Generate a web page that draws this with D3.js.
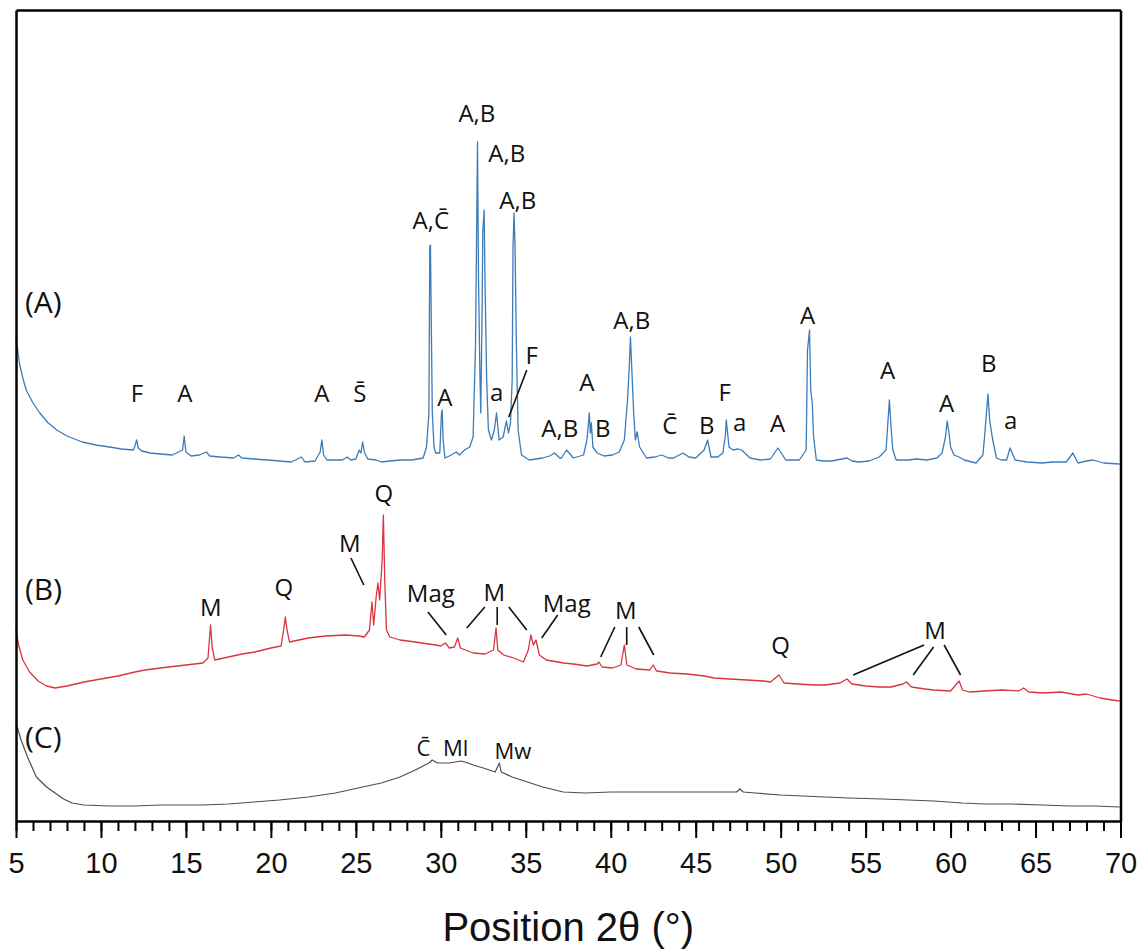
<!DOCTYPE html>
<html>
<head>
<meta charset="utf-8">
<script src="https://cdn.jsdelivr.net/npm/d3@7"></script>
<style>
  body { margin: 0; background: #fff; }
</style>
</head>
<body>
<svg id="chart"></svg>
<script>
// XRD patterns, 2theta (deg) vs intensity (a.u., traces stacked)
const traceA = [[5.0,484],[5.1,471],[5.2,458],[5.4,443],[5.6,431],[6.0,418],[6.4,408],[6.9,398],[7.4,391],[8.0,385],[8.9,379],[9.7,376],[10.5,374],[11.2,372],[11.9,371],[12.0,375],[12.1,381],[12.2,373],[12.4,370],[12.9,368],[13.5,367],[14.2,366],[14.8,371],[14.9,385],[15.0,369],[15.3,365],[15.8,366],[16.2,369],[16.4,365],[17.0,364],[17.8,363],[18.1,366],[18.3,363],[19.0,362],[19.8,361],[20.5,360],[21.2,359],[21.8,364],[22.0,359],[22.6,360],[22.9,369],[23.0,381],[23.1,366],[23.3,361],[23.7,361],[24.2,361],[24.5,364],[24.7,361],[25.0,362],[25.2,371],[25.3,368],[25.4,379],[25.5,369],[25.7,362],[26.2,361],[26.5,359],[27.0,360],[27.6,361],[28.3,361],[28.96,363],[29.16,374],[29.3,408],[29.35,574],[29.39,576],[29.45,484],[29.5,408],[29.6,374],[29.7,368],[29.94,368],[30.04,408],[30.08,411],[30.14,381],[30.24,363],[30.5,365],[30.92,369],[31.1,366],[31.4,371],[31.7,374],[31.9,384],[32.04,474],[32.1,574],[32.16,679],[32.22,541],[32.3,448],[32.35,408],[32.43,508],[32.47,589],[32.55,611],[32.6,541],[32.7,441],[32.8,391],[32.98,381],[33.15,391],[33.28,408],[33.43,381],[33.67,384],[33.86,400],[33.98,388],[34.1,398],[34.2,441],[34.25,574],[34.31,608],[34.37,574],[34.45,474],[34.55,391],[34.75,366],[35.2,361],[35.6,362],[36.0,363],[36.4,365],[36.7,368],[37.0,363],[37.1,363],[37.4,371],[37.8,363],[38.4,366],[38.6,381],[38.74,408],[38.8,388],[38.86,398],[38.95,374],[39.2,368],[39.6,365],[40.1,366],[40.5,369],[40.8,381],[41.0,424],[41.1,458],[41.16,484],[41.25,448],[41.35,408],[41.45,381],[41.55,389],[41.7,374],[42.1,363],[42.6,364],[43.0,366],[43.4,363],[43.7,363],[44.25,368],[44.6,364],[45.0,363],[45.5,371],[45.7,381],[45.9,364],[46.3,364],[46.6,368],[46.75,386],[46.8,401],[46.96,374],[47.2,371],[47.5,372],[47.7,371],[48.2,363],[48.8,361],[49.4,362],[49.84,373],[50.0,369],[50.3,361],[51.1,361],[51.5,371],[51.58,471],[51.7,491],[51.77,431],[51.86,418],[51.94,384],[52.1,361],[52.5,360],[53.0,360],[53.9,363],[54.2,360],[54.6,359],[55.2,360],[55.8,364],[56.2,371],[56.4,421],[56.5,393],[56.6,371],[56.8,361],[57.5,361],[58.0,362],[58.6,361],[59.2,363],[59.5,368],[59.7,384],[59.8,400],[59.9,389],[60.0,374],[60.2,366],[60.5,364],[60.8,361],[61.5,358],[61.9,366],[62.0,384],[62.2,427],[62.3,401],[62.45,384],[62.7,363],[63.0,361],[63.3,361],[63.5,373],[63.6,369],[63.8,361],[64.5,359],[65.4,358],[66.0,359],[66.8,359],[67.2,368],[67.4,361],[67.5,358],[68.0,360],[68.4,361],[69.0,358],[69.95,357]];

const traceB = [[5.0,191],[5.15,176],[5.4,161],[5.8,149],[6.3,140],[6.8,135],[7.3,133],[8.0,135],[9.0,139],[10.0,142],[11.0,145],[12.0,149],[12.6,151],[13.5,153],[14.5,155],[15.5,157],[16.0,158],[16.3,163],[16.45,196],[16.55,173],[16.7,161],[17.5,164],[18.3,167],[19.05,169],[20.0,173],[20.6,175],[20.75,191],[20.85,204],[20.95,191],[21.1,179],[22.2,183],[23.2,185],[24.4,186],[25.2,185],[25.5,184],[25.8,191],[25.95,219],[26.05,196],[26.2,225],[26.3,238],[26.4,221],[26.55,261],[26.62,306],[26.7,241],[26.8,191],[27.0,184],[27.6,181],[28.5,179],[29.7,176],[30.0,175],[30.27,178],[30.5,173],[30.8,174],[31.0,183],[31.15,173],[31.9,168],[32.6,167],[33.1,171],[33.25,193],[33.35,171],[33.7,166],[34.3,163],[34.86,159],[35.15,171],[35.3,186],[35.45,176],[35.6,181],[35.8,166],[36.2,161],[36.9,159],[37.2,158],[37.8,157],[38.6,155],[39.2,157],[39.3,159],[39.5,154],[40.1,153],[40.6,156],[40.8,176],[40.95,156],[41.5,152],[42.3,151],[42.5,156],[42.7,150],[43.5,148],[44.5,147],[45.5,145],[46.1,143],[47.0,142],[48.0,141],[49.0,140],[49.4,139],[49.9,146],[50.2,138],[51.0,137],[52.0,136],[52.6,136],[53.5,138],[53.9,142],[54.2,137],[55.0,135],[55.8,134],[56.5,134],[57.2,137],[57.4,139],[57.7,134],[58.5,132],[59.0,131],[60.0,130],[60.5,140],[60.7,131],[61.1,129],[62.0,130],[63.0,131],[64.0,130],[64.3,133],[64.6,129],[65.5,128],[66.5,129],[67.5,126],[68.0,127],[68.8,123],[69.5,121],[69.95,120]];

const traceC = [[5.0,98],[5.3,81],[5.7,63],[6.2,44],[6.8,34],[7.3,28],[7.8,22],[8.3,18],[9.0,16],[10.5,15],[12.0,15],[13.5,16],[14.8,16],[16.0,16],[17.5,17],[19.0,19],[20.5,21],[22.2,24],[23.8,28],[25.4,34],[26.5,38],[27.6,44],[28.5,51],[29.3,58],[29.5,61],[29.8,58],[30.5,58],[31.2,60],[31.6,58],[31.9,56],[32.5,53],[33.2,49],[33.45,58],[33.55,49],[34.2,44],[35.1,39],[36.0,34],[37.2,29],[38.5,28],[40.0,29],[42.0,29],[44.0,29],[46.0,29],[47.4,29],[47.6,32],[47.8,29],[48.5,28],[50.0,26],[52.6,24],[54.0,23],[56.0,22],[57.5,21],[59.0,20],[60.7,18],[62.0,17],[63.5,17],[65.4,16],[67.0,15],[68.5,15],[69.95,14]];

// phase labels: [text, 2theta, intensity at baseline]
const labelsA = [["F",12.12,419.5],["A",14.94,419.5],["A",23.0,419.5],["S\u0304",25.24,419.5],["A,C\u0304",29.41,592.5],["A",30.24,415.5],["A,B",32.12,699.5],["A,B",33.88,659.5],["A,B",34.53,612.5],["a",33.29,420],["F",35.35,457.5],["A",38.59,430.5],["A,B",37.0,384.5],["B",39.53,384.5],["A,B",41.24,492.5],["C\u0304",43.47,387.5],["B",45.65,387.5],["F",46.71,420.5],["a",47.59,390],["A",49.82,389.5],["A",51.59,497.5],["A",56.29,442.5],["A",59.76,409.5],["B",62.24,449.5],["a",63.53,392]];
const labelsB = [["M",16.47,205.5],["Q",20.76,225.5],["M",24.65,269.5],["Q",26.65,319.5],["Mag",29.41,219.5],["M",33.15,220.5],["Mag",37.41,209.5],["M",40.88,202.5],["Q",50.0,167.5],["M",59.09,182.5]];
const labelsC = [["C\u0304",28.98,65.5],["Ml",30.88,65.5],["Mw",34.24,62.5]];
const sampleNames = [["(A)",5.53,508],["(B)",5.53,221],["(C)",5.53,73]];

// leader lines: [2theta1, I1, 2theta2, I2]
const leaders = [[35.06,451,34.0,404],[24.71,263,25.47,236],[29.24,209,30.32,186],[32.59,214,31.53,193],[33.32,214,33.32,196],[34.0,214,35.06,191],[36.88,206,35.94,183],[40.24,194,39.41,164],[40.94,194,40.94,176],[41.65,194,42.53,166],[58.44,176,54.27,146],[59.0,174,57.8,146],[59.62,176,60.59,146]];

const xMajor = d3.range(5, 71, 5);
const xMinor = d3.range(5, 71, 1);

const W = 1143, H = 951;
const margin = { top: 10, right: 22.5, bottom: 130, left: 16 };

const svg = d3.select("#chart").attr("width", W).attr("height", H);

const x = d3.scaleLinear().domain([5, 70]).range([margin.left, W - margin.right]);
const y = d3.scaleLinear().domain([0, 811]).range([H - margin.bottom, margin.top]);

const line = d3.line().x(d => x(d[0])).y(d => y(d[1]));

svg.append("path").datum(traceC)
  .attr("fill", "none").attr("stroke", "#4d4d4d").attr("stroke-width", 1.2)
  .attr("stroke-linejoin", "round").attr("d", line);
svg.append("path").datum(traceB)
  .attr("fill", "none").attr("stroke", "#d9343f").attr("stroke-width", 1.3)
  .attr("stroke-linejoin", "round").attr("d", line);
svg.append("path").datum(traceA)
  .attr("fill", "none").attr("stroke", "#3d7cb8").attr("stroke-width", 1.3)
  .attr("stroke-linejoin", "round").attr("d", line);

// frame
const y0 = y(0), yTop = y(811);
svg.append("g").attr("transform", "translate(0," + yTop + ")")
  .call(d3.axisTop(x).tickValues([]).tickSizeOuter(0))
  .select(".domain").attr("stroke-width", 2.5);
svg.append("g").attr("transform", "translate(" + x(5) + ",0)")
  .call(d3.axisLeft(y).tickValues([]).tickSizeOuter(0))
  .select(".domain").attr("stroke-width", 2.5);
svg.append("g").attr("transform", "translate(" + x(70) + ",0)")
  .call(d3.axisRight(y).tickValues([]).tickSizeOuter(0))
  .select(".domain").attr("stroke-width", 2.5);

// bottom axis: minor then major ticks
const minorAxis = svg.append("g").attr("transform", "translate(0," + y0 + ")")
  .call(d3.axisBottom(x).tickValues(xMinor).tickSize(10).tickSizeOuter(0).tickFormat(""));
minorAxis.selectAll(".tick line").attr("stroke-width", 2);
minorAxis.select(".domain").attr("stroke-width", 2.5);

const majorAxis = svg.append("g").attr("transform", "translate(0," + y0 + ")")
  .call(d3.axisBottom(x).tickValues(xMajor).tickSize(17).tickSizeOuter(0).tickPadding(14));
majorAxis.select(".domain").remove();
majorAxis.selectAll(".tick line").attr("stroke-width", 2);
majorAxis.selectAll(".tick text")
  .attr("font-family", "Liberation Sans, Arial, sans-serif")
  .attr("font-size", 29).attr("fill", "#111");

svg.append("text")
  .attr("x", (x(5) + x(70)) / 2).attr("y", 941)
  .attr("text-anchor", "middle")
  .attr("font-family", "Liberation Sans, Arial, sans-serif")
  .attr("font-size", 40).attr("fill", "#111")
  .text("Position 2\u03b8 (\u00b0)");

const labelFont = "'Open Sans', 'Noto Sans', sans-serif";

function drawLabels(arr, size) {
  svg.append("g").selectAll("text").data(arr).join("text")
    .attr("x", d => x(d[1])).attr("y", d => y(d[2]))
    .attr("text-anchor", "middle")
    .attr("font-family", labelFont).attr("font-size", size).attr("fill", "#111")
    .text(d => d[0]);
}
drawLabels(labelsA, 24);
drawLabels(labelsB, 24);
drawLabels(labelsC, 22);

svg.append("g").selectAll("text").data(sampleNames).join("text")
  .attr("x", d => x(d[1])).attr("y", d => y(d[2]))
  .attr("font-family", labelFont).attr("font-size", 30).attr("fill", "#111")
  .text(d => d[0]);

svg.append("g").selectAll("line").data(leaders).join("line")
  .attr("x1", d => x(d[0])).attr("y1", d => y(d[1]))
  .attr("x2", d => x(d[2])).attr("y2", d => y(d[3]))
  .attr("stroke", "#111").attr("stroke-width", 1.6);
</script>
</body>
</html>
